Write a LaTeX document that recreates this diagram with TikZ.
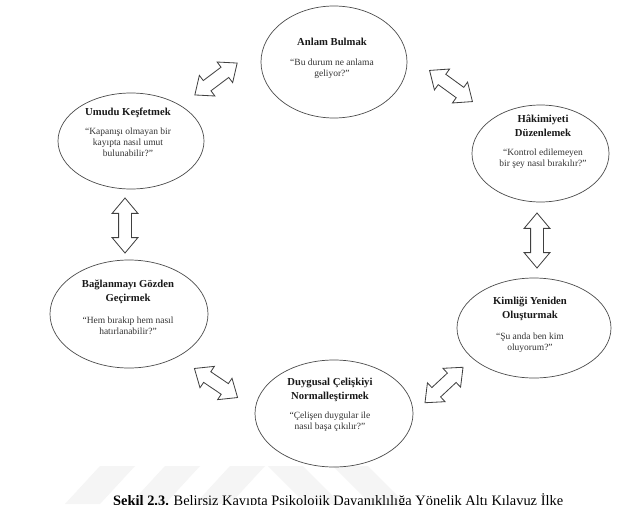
\documentclass[tikz,border=0pt]{standalone}
\usepackage{fontspec}
\setmainfont{Liberation Serif}
\usetikzlibrary{shapes.geometric,shapes.arrows}
\begin{document}
\begin{tikzpicture}[x=0.03cm,y=-0.03cm,
  ell/.style={ellipse,draw=black!70,line width=0.6pt,inner sep=0pt},
  ttl/.style={font=\fontsize{9.1}{12}\selectfont\bfseries,align=center,inner sep=0pt,text=black!90},
  qt/.style={font=\fontsize{8.1}{9.6}\selectfont,align=center,inner sep=0pt,text=black!80},
  darr/.style={double arrow,draw=black!75,line width=0.7pt,fill=white,inner xsep=0pt,inner ysep=0.18cm,
    double arrow head extend=0.195cm,double arrow tip angle=80},
  wm/.style={fill=black!4,draw=none}]
\useasboundingbox (0,0) rectangle (620,504);
\clip (0,0) rectangle (620,504);
\fill[white] (0,0) rectangle (620,504);
% faint watermark
\fill[wm] (65,504) -- (100,504) -- (135,466) -- (100,466) -- cycle;
\fill[wm] (130,504) -- (165,504) -- (200,466) -- (165,466) -- cycle;
\fill[wm] (195,504) -- (230,504) -- (265,466) -- (230,466) -- cycle;
\fill[wm] (268,466) -- (303,466) -- (341,504) -- (306,504) -- cycle;
\fill[wm] (333,466) -- (368,466) -- (406,504) -- (371,504) -- cycle;
% ellipses
\node[ell,minimum width=4.38cm,minimum height=3.36cm] (anlam) at (334,62) {};
\node[ell,minimum width=4.38cm,minimum height=2.88cm] (umudu) at (131,141) {};
\node[ell,minimum width=4.11cm,minimum height=2.91cm] (hakim) at (540.5,153.5) {};
\node[ell,minimum width=4.74cm,minimum height=3.24cm] (baglan) at (129,314) {};
\node[ell,minimum width=4.62cm,minimum height=3.00cm] (kimlik) at (534,328) {};
\node[ell,minimum width=4.74cm,minimum height=3.21cm] (duygu) at (334,413.5) {};
% texts
\node[ttl] (anlamT) at (332,42) {Anlam Bulmak};
\node[qt] (anlamQ) at (332,69) {“Bu durum ne anlama\\geliyor?”};
\node[ttl] (umuduT) at (128,113) {Umudu Keşfetmek};
\node[qt] (umuduQ) at (128,142.5) {“Kapanışı olmayan bir\\kayıpta nasıl umut\\bulunabilir?”};
\node[ttl] (hakimT) at (543,125.5) {Hâkimiyeti\\Düzenlemek};
\node[qt] (hakimQ) at (543,158.5) {“Kontrol edilemeyen\\bir şey nasıl bırakılır?”};
\node[ttl] (baglanT) at (128,291.5) {Bağlanmayı Gözden\\Geçirmek};
\node[qt] (baglanQ) at (128,326) {“Hem bırakıp hem nasıl\\hatırlanabilir?”};
\node[ttl] (kimlikT) at (530,308.5) {Kimliği Yeniden\\Oluşturmak};
\node[qt] (kimlikQ) at (530,342.5) {“Şu anda ben kim\\oluyorum?”};
\node[ttl] (duyguT) at (330,389.5) {Duygusal Çelişkiyi\\Normalleştirmek};
\node[qt] (duyguQ) at (330,422) {“Çelişen duygular ile\\nasıl başa çıkılır?”};
% block double arrows
\node[darr,minimum height=1.59cm,rotate=37] (a1) at (216,79) {};
\node[darr,minimum height=1.59cm,rotate=-36] (a2) at (451,86) {};
\node[darr,minimum height=1.65cm,rotate=90] (a3) at (125,225.5) {};
\node[darr,minimum height=1.65cm,rotate=90] (a4) at (537,240.5) {};
\node[darr,minimum height=1.56cm,rotate=-34] (a5) at (216,383) {};
\node[darr,minimum height=1.56cm,rotate=43] (a6) at (444,385) {};
% caption
\node[anchor=base west,inner sep=0pt,font=\fontsize{12.3}{14}\selectfont] (cap) at (113,505)
  {\textbf{Şekil 2.3.} Belirsiz Kayıpta Psikolojik Dayanıklılığa Yönelik Altı Kılavuz İlke};
\end{tikzpicture}
\end{document}
